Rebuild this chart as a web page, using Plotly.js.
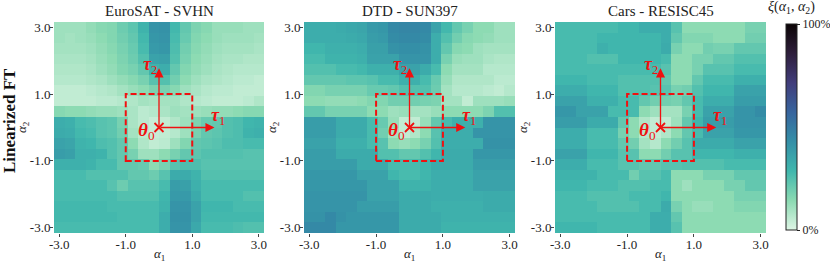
<!DOCTYPE html>
<html>
<head>
<meta charset="utf-8">
<script src="https://cdn.plot.ly/plotly-3.0.1.min.js"></script>
<style>html,body{margin:0;padding:0;background:#fff;}#chart{width:830px;height:264px;}</style>
</head>
<body>
<div id="chart"></div>
<script>
// grid coordinates (alpha values of cell centres)
const alphaGrid = [-3.000,-2.684,-2.368,-2.053,-1.737,-1.421,-1.105,-0.789,-0.474,-0.158,0.158,0.474,0.789,1.105,1.421,1.737,2.053,2.368,2.684,3.000];
const alphaGridTopDown = alphaGrid.slice().reverse();
const tickVals = [-3, -1, 1, 3];
const tickText = ['-3.0', '-1.0', '1.0', '3.0'];
const panelTitles = ['EuroSAT - SVHN', 'DTD - SUN397', 'Cars - RESISC45'];
const rowLabel = 'Linearized FT';
const colorbarTicks = [0, 100];
const colorbarText = ['0%', '100%'];

// xi(alpha1, alpha2) in %, rows from alpha2 = 3 (top) to alpha2 = -3 (bottom)
const zEuroSatSvhn = [
[11,11,11,13,15,16,20,23,30,41,42,28,22,17,15,12,12,12,11,11],
[11,10,11,12,14,16,19,22,28,40,41,27,21,16,14,12,11,11,11,10],
[10,10,10,11,13,15,18,21,27,39,40,26,19,15,13,11,10,10,10,9],
[9,9,9,10,12,14,17,20,25,36,37,25,18,14,12,10,9,9,8,8],
[8,8,8,9,11,13,16,18,22,30,32,22,16,13,11,9,8,7,7,7],
[7,7,7,8,9,11,13,15,18,24,25,19,14,11,9,8,7,6,6,5],
[5,5,5,6,7,8,10,12,14,17,18,15,11,9,7,6,6,5,5,5],
[5,5,5,5,6,6,7,8,10,9,10,10,8,7,6,5,5,5,6,8],
[15,14,14,13,12,12,11,9,6,7,9,11,10,11,12,13,13,14,15,15],
[32,31,27,26,24,23,18,9,6,4,5,8,11,17,21,22,25,26,29,30],
[33,32,28,27,24,23,19,10,6,4,5,7,11,18,22,23,25,26,30,31],
[36,35,30,29,26,25,22,14,8,5,6,11,16,22,23,24,26,26,27,27],
[38,37,31,31,30,25,22,18,11,11,14,18,22,23,25,25,25,25,24,24],
[31,31,31,30,27,27,22,22,21,14,18,24,26,26,24,24,24,24,24,24],
[27,27,27,25,25,25,25,22,22,20,24,33,33,30,25,25,25,25,25,25],
[27,27,27,27,27,24,20,24,24,24,27,38,37,31,27,27,27,27,27,27],
[27,27,27,27,27,27,25,25,25,25,29,39,39,33,27,27,27,27,25,25],
[28,28,28,28,28,27,27,27,27,27,30,41,41,36,29,29,29,27,27,27],
[28,28,28,28,28,28,27,27,27,27,32,42,42,36,28,28,28,28,28,28],
[27,27,27,27,27,27,27,27,27,27,32,41,41,34,27,27,27,26,25,25]
];
const zDtdSun397 = [
[32,32,32,33,34,35,39,40,45,46,46,45,36,28,22,18,14,14,11,11],
[32,32,32,32,33,34,38,39,44,45,45,44,32,25,19,15,14,13,11,11],
[29,29,31,31,31,32,37,37,42,43,43,42,32,22,15,14,11,10,10,10],
[27,27,30,30,30,31,36,36,36,41,41,41,32,18,12,11,11,9,8,8],
[25,25,25,27,27,28,31,31,31,36,36,33,27,14,10,10,10,7,7,7],
[22,22,22,22,23,23,24,27,27,31,31,27,21,12,8,8,8,8,6,6],
[16,16,18,18,18,18,21,21,22,25,25,25,20,10,7,7,7,6,5,7],
[14,14,13,13,13,14,16,16,19,19,19,18,17,10,10,5,11,11,11,12],
[22,22,18,18,18,18,14,14,11,12,10,10,12,14,14,14,14,17,25,25],
[38,38,38,33,33,33,27,21,12,5,5,12,22,27,31,31,31,41,41,41],
[38,38,38,33,33,33,27,19,10,5,8,14,24,32,32,32,41,41,41,41],
[36,36,36,31,31,31,27,24,14,12,14,18,25,32,32,32,32,42,42,42],
[38,38,38,33,33,33,33,25,25,22,22,25,29,33,33,33,40,40,40,40],
[38,38,38,38,38,33,33,33,27,27,27,29,33,33,33,33,38,38,38,38],
[40,40,40,40,40,36,36,36,29,27,27,29,32,32,32,32,36,36,36,36],
[40,40,40,40,40,40,36,36,36,30,30,30,32,32,32,32,36,36,36,36],
[41,41,41,41,41,41,36,36,36,33,33,33,32,32,32,32,32,33,33,33],
[41,41,41,41,41,38,38,38,38,33,33,33,31,31,31,31,31,33,33,33],
[42,42,45,42,40,40,40,40,40,33,33,33,33,31,31,31,31,31,31,31],
[45,45,45,40,40,40,40,40,40,33,33,33,33,30,30,30,30,30,30,30]
];
const zCarsResisc45 = [
[27,27,27,27,27,27,29,29,32,32,32,24,14,14,14,14,14,14,18,18],
[27,27,27,27,29,29,29,29,29,29,32,22,16,16,16,14,14,14,19,19],
[27,27,27,27,31,29,29,29,29,29,33,18,14,14,19,18,18,22,22,22],
[27,27,27,25,25,25,29,29,29,29,27,14,14,18,18,22,22,25,25,25],
[27,27,27,27,27,27,27,27,27,27,24,14,14,18,24,24,24,27,27,27],
[29,29,29,27,27,27,25,25,25,25,22,14,14,22,27,27,27,31,31,31],
[32,32,32,29,29,29,25,25,25,24,24,18,19,25,29,29,29,36,36,36],
[36,36,36,31,31,31,27,27,22,19,19,18,22,27,32,32,32,38,38,38],
[40,40,36,36,36,27,27,27,14,11,10,10,18,27,36,36,36,41,41,44],
[38,38,38,33,33,33,22,14,8,5,5,11,22,29,38,38,38,41,41,41],
[32,32,32,27,27,27,18,14,7,5,8,14,22,27,36,36,36,40,40,40],
[32,32,32,27,27,27,22,19,10,7,14,19,24,33,33,33,33,36,36,36],
[36,36,36,29,29,29,24,24,14,14,19,24,24,29,29,29,29,31,31,31],
[32,32,32,27,27,27,24,24,22,22,24,24,25,25,25,25,27,27,27,27],
[30,30,30,30,27,27,27,19,24,24,27,14,14,14,18,18,18,22,22,22],
[29,29,29,27,27,27,25,25,25,27,27,14,11,14,14,14,18,18,22,22],
[27,27,27,25,25,25,25,27,27,27,29,14,14,14,14,14,14,18,18,18],
[27,27,27,27,25,25,25,25,27,27,33,18,14,12,12,14,14,16,16,16],
[27,27,27,27,27,27,27,27,27,32,32,22,14,14,14,14,14,14,14,14],
[29,29,29,29,27,27,27,27,27,32,32,24,14,14,14,14,14,14,14,14]
];
const panelData = [zEuroSatSvhn, zDtdSun397, zCarsResisc45];

const makoR = [
  [0.000, '#def5e5'], [0.143, '#8bdab2'], [0.286, '#40b7ad'], [0.429, '#348fa7'],
  [0.571, '#37659e'], [0.714, '#413d7b'], [0.857, '#2e1e3b'], [1.000, '#0b0405']
];

const W = 830, H = 264;
const FONT = 'Liberation Serif, Times New Roman, serif';
const RED = '#f01010';
const panelPx = [[54, 264], [304, 515], [555, 766]];
const plotTop = 22, plotBottom = 233;
const R = 3.158;

const traces = [];
const layout = {
  width: W, height: H,
  margin: {l: 0, r: 0, t: 0, b: 0, autoexpand: false},
  paper_bgcolor: '#fff', plot_bgcolor: '#fff',
  font: {family: FONT, size: 12, color: '#111'},
  showlegend: false,
  shapes: [], annotations: []
};

function paperText(xpx, ypx, text, size, extra) {
  return Object.assign({xref: 'paper', yref: 'paper', x: xpx / W, y: (H - ypx) / H,
    xanchor: 'center', yanchor: 'middle', showarrow: false, text: text,
    font: {family: FONT, size: size, color: '#222'}}, extra || {});
}

panelData.forEach((z, i) => {
  const n = i + 1;
  const xa = 'x' + (n === 1 ? '' : n), ya = 'y' + (n === 1 ? '' : n);
  const xk = 'xaxis' + (n === 1 ? '' : n), yk = 'yaxis' + (n === 1 ? '' : n);
  traces.push({
    type: 'heatmap', x: alphaGrid, y: alphaGridTopDown, z: z,
    xaxis: xa, yaxis: ya, zmin: 0, zmax: 100, colorscale: makoR,
    showscale: i === 2, zsmooth: false, hoverinfo: 'skip',
    colorbar: {
      x: 786 / W, xanchor: 'left', xpad: 0, y: (H - 127) / H, yanchor: 'middle',
      len: 206 / H, lenmode: 'fraction', ypad: 0, thickness: 11,
      outlinewidth: 1, outlinecolor: '#222',
      tickvals: colorbarTicks, ticktext: colorbarText,
      ticks: 'outside', ticklen: 3, tickcolor: '#222',
      tickfont: {family: FONT, size: 12, color: '#222'}
    }
  });
  traces.push({
    type: 'scatter', mode: 'markers', x: [0], y: [0], xaxis: xa, yaxis: ya,
    marker: {symbol: 'x-thin', size: 9, color: RED, line: {color: RED, width: 1.8}},
    hoverinfo: 'skip'
  });
  const axCommon = {
    range: [-R, R], tickvals: tickVals, ticktext: tickText, ticks: 'outside',
    ticklen: 3, tickwidth: 1, tickcolor: '#444', showgrid: false, zeroline: false,
    showline: false, tickfont: {family: FONT, size: 13, color: '#222'}, fixedrange: true
  };
  layout[xk] = Object.assign({}, axCommon, {
    domain: [panelPx[i][0] / W, panelPx[i][1] / W], anchor: ya, ticklabelstandoff: -4
  });
  layout[yk] = Object.assign({}, axCommon, {
    domain: [(H - plotBottom) / H, (H - plotTop) / H], anchor: xa, ticklabelstandoff: -3
  });
  layout.shapes.push({
    type: 'rect', xref: xa, yref: ya, x0: -1, x1: 1, y0: -1, y1: 1,
    line: {color: RED, width: 2, dash: '6px,3px'}
  });
  const arrow = {xref: xa, yref: ya, axref: xa, ayref: ya, text: '', showarrow: true,
    arrowhead: 2, arrowsize: 1.4, arrowwidth: 1.3, arrowcolor: RED, ax: 0, ay: 0};
  layout.annotations.push(Object.assign({}, arrow, {x: 1.67, y: 0}));
  layout.annotations.push(Object.assign({}, arrow, {x: 0, y: 1.77}));
  layout.annotations.push({xref: xa, yref: ya, x: 1.78, y: 0.32, showarrow: false,
    xanchor: 'center', yanchor: 'middle',
    text: '<b><i>τ</i></b><sub>1</sub>', font: {family: FONT, size: 18, color: RED}});
  layout.annotations.push({xref: xa, yref: ya, x: -0.28, y: 1.87, showarrow: false,
    xanchor: 'center', yanchor: 'middle',
    text: '<b><i>τ</i></b><sub>2</sub>', font: {family: FONT, size: 18, color: RED}});
  layout.annotations.push({xref: xa, yref: ya, x: -0.38, y: -0.1, showarrow: false,
    xanchor: 'center', yanchor: 'middle',
    text: '<b><i>θ</i></b><sub>0</sub>', font: {family: FONT, size: 19, color: RED}});
  const cxp = (panelPx[i][0] + panelPx[i][1]) / 2;
  layout.annotations.push(paperText(cxp, 11, panelTitles[i], 15));
  layout.annotations.push(paperText(cxp, 254, '<i>α</i><sub>1</sub>', 13));
  layout.annotations.push(paperText(panelPx[i][0] - 32, 127, '<i>α</i><sub>2</sub>', 13, {textangle: -90}));
});

layout.annotations.push(paperText(9, 121, '<b>' + rowLabel + '</b>', 17, {textangle: -90, font: {family: FONT, size: 17, color: '#111'}}));
layout.annotations.push(paperText(791, 8, '<i>ξ</i>(<i>α</i><sub>1</sub>, <i>α</i><sub>2</sub>)', 14));

Plotly.newPlot('chart', traces, layout, {staticPlot: true, displayModeBar: false});
</script>
</body>
</html>
